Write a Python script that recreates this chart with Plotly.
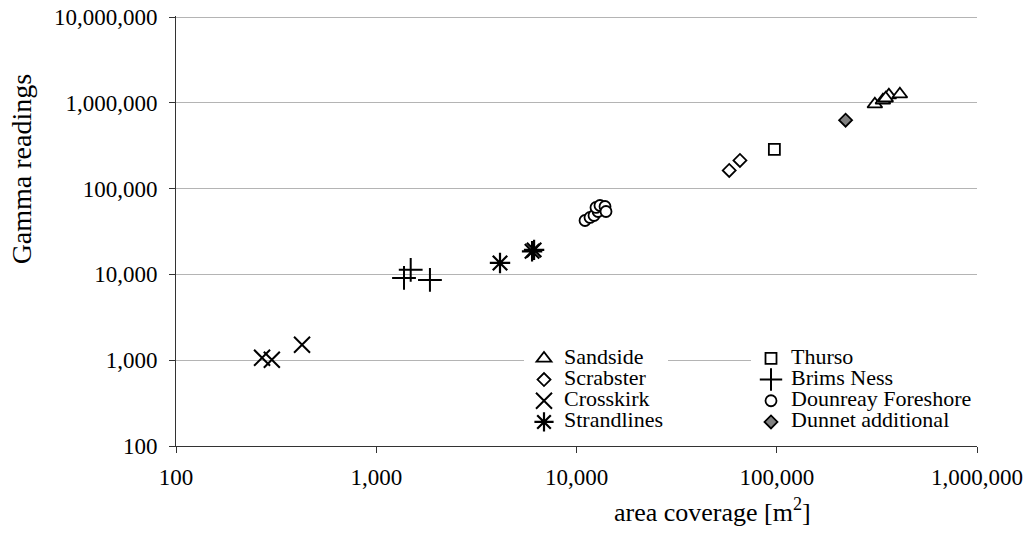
import plotly.graph_objects as go

# ---- data (area coverage [m2], gamma readings) ----
sandside_x = [309000, 339000, 363000, 412000, 350000]
sandside_y = [964000, 1072000, 1228000, 1260000, 1130000]

thurso_x = [97300]
thurso_y = [287000]

scrabster_x = [57900, 65500]
scrabster_y = [163000, 213000]

brims_x = [1376, 1486, 1854]
brims_y = [9100, 11300, 8630]

crosskirk_x = [269, 301, 426]
crosskirk_y = [1067, 1011, 1513]

dounreay_x = [11030, 11680, 12230, 12810, 12510, 13100, 13880, 14040]
dounreay_y = [42500, 46100, 48600, 54100, 60300, 63600, 61900, 54100]

strand_x = [4150, 6140, 6000]
strand_y = [13600, 19300, 18600]

dunnet_x = [220700]
dunnet_y = [627000]

x_tickvals = [100, 1000, 10000, 100000, 1000000]
x_ticktext = ["100", "1,000", "10,000", "100,000", "1,000,000"]
y_tickvals = [100, 1000, 10000, 100000, 1000000, 10000000]
y_ticktext = ["100", "1,000", "10,000", "100,000", "1,000,000", "10,000,000"]

FONT = "Liberation Serif"
LEG_SPAN = '<span style="font-family:Liberation Serif;font-size:22px">{}</span>'

fig = go.Figure()

def add(name, xs, ys, symbol, size, legend, fill="white", lw=1.8):
    fig.add_trace(go.Scatter(
        x=xs, y=ys, mode="markers", name=LEG_SPAN.format(name),
        legend=legend,
        marker=dict(symbol=symbol, size=size, color=fill,
                    line=dict(color="black", width=lw)),
    ))

# left legend column
add("Sandside", sandside_x, sandside_y, "triangle-up", 13, "legend")
add("Scrabster", scrabster_x, scrabster_y, "diamond", 10, "legend")
add("Crosskirk", crosskirk_x, crosskirk_y, "x-thin-open", 16, "legend", fill="black", lw=2)
add("Strandlines", strand_x, strand_y, "asterisk-open", 17, "legend", fill="black", lw=2.2)
# right legend column
add("Thurso", thurso_x, thurso_y, "square", 11, "legend2")
add("Brims Ness", brims_x, brims_y, "cross-thin-open", 17, "legend2", fill="black", lw=2)
add("Dounreay Foreshore", dounreay_x, dounreay_y, "circle", 11, "legend2")
add("Dunnet additional", dunnet_x, dunnet_y, "diamond", 10, "legend2", fill="#808080")

# page body has an 8px margin; figure sized to fit the 1031x542 window
OFF = 8
W, H = 1031 - OFF, 542 - OFF
ml, mt = 176 - OFF, 17 - OFF
pw, ph = 801, 429
mr, mb = W - ml - pw, H - mt - ph

def px_x(p):  # screen pixel -> paper x
    return (p - OFF - ml) / pw

def px_y(p):  # screen pixel -> paper y
    return (mt + ph - (p - OFF)) / ph

fig.update_layout(
    width=W, height=H,
    margin=dict(l=ml, r=mr, t=mt - 1, b=mb, autoexpand=False),
    paper_bgcolor="white", plot_bgcolor="white",
    font=dict(family=FONT, color="black", size=23),
    showlegend=True,
    legend=dict(x=px_x(524), y=px_y(343), xanchor="left", yanchor="top",
                bgcolor="white", borderwidth=0, font=dict(family=FONT, size=14),
                tracegroupgap=0),
    legend2=dict(x=px_x(751), y=px_y(343), xanchor="left", yanchor="top",
                 bgcolor="white", borderwidth=0, font=dict(family=FONT, size=14),
                 tracegroupgap=0),
    xaxis=dict(type="log", range=[2, 6], tickvals=x_tickvals, ticktext=x_ticktext,
               showgrid=False, showline=True, linecolor="#333", linewidth=1,
               ticks="outside", ticklen=6, tickcolor="#333", zeroline=False,
               automargin=False, ticklabelstandoff=4, ticklabeloverflow="allow",
               tickfont=dict(family=FONT, size=23)),
    yaxis=dict(type="log", range=[2, 7.012], tickvals=y_tickvals, ticktext=y_ticktext,
               showgrid=True, gridcolor="#b4b4b4", gridwidth=1,
               showline=True, linecolor="#333", linewidth=1,
               ticks="outside", ticklen=6, tickcolor="#333", zeroline=False,
               automargin=False, ticklabelstandoff=7, ticklabeloverflow="allow",
               tickfont=dict(family=FONT, size=23)),
    shapes=[
        # white backing behind the two-column legend (hides the gridline there)
        dict(type="rect", xref="paper", yref="paper", layer="between",
             x0=px_x(527), x1=px_x(975), y0=px_y(430), y1=px_y(344),
             fillcolor="white", line=dict(width=0)),
    ],
    annotations=[
        dict(text="area coverage [m<sup>2</sup>]", xref="paper", yref="paper",
             x=px_x(712), y=px_y(510), xanchor="center", yanchor="middle",
             showarrow=False, font=dict(family=FONT, size=26)),
        dict(text="Gamma readings", xref="paper", yref="paper",
             x=px_x(21), y=px_y(170), xanchor="center", yanchor="middle",
             textangle=-90, showarrow=False, font=dict(family=FONT, size=28)),
    ],
)

fig.write_html("out.html")
